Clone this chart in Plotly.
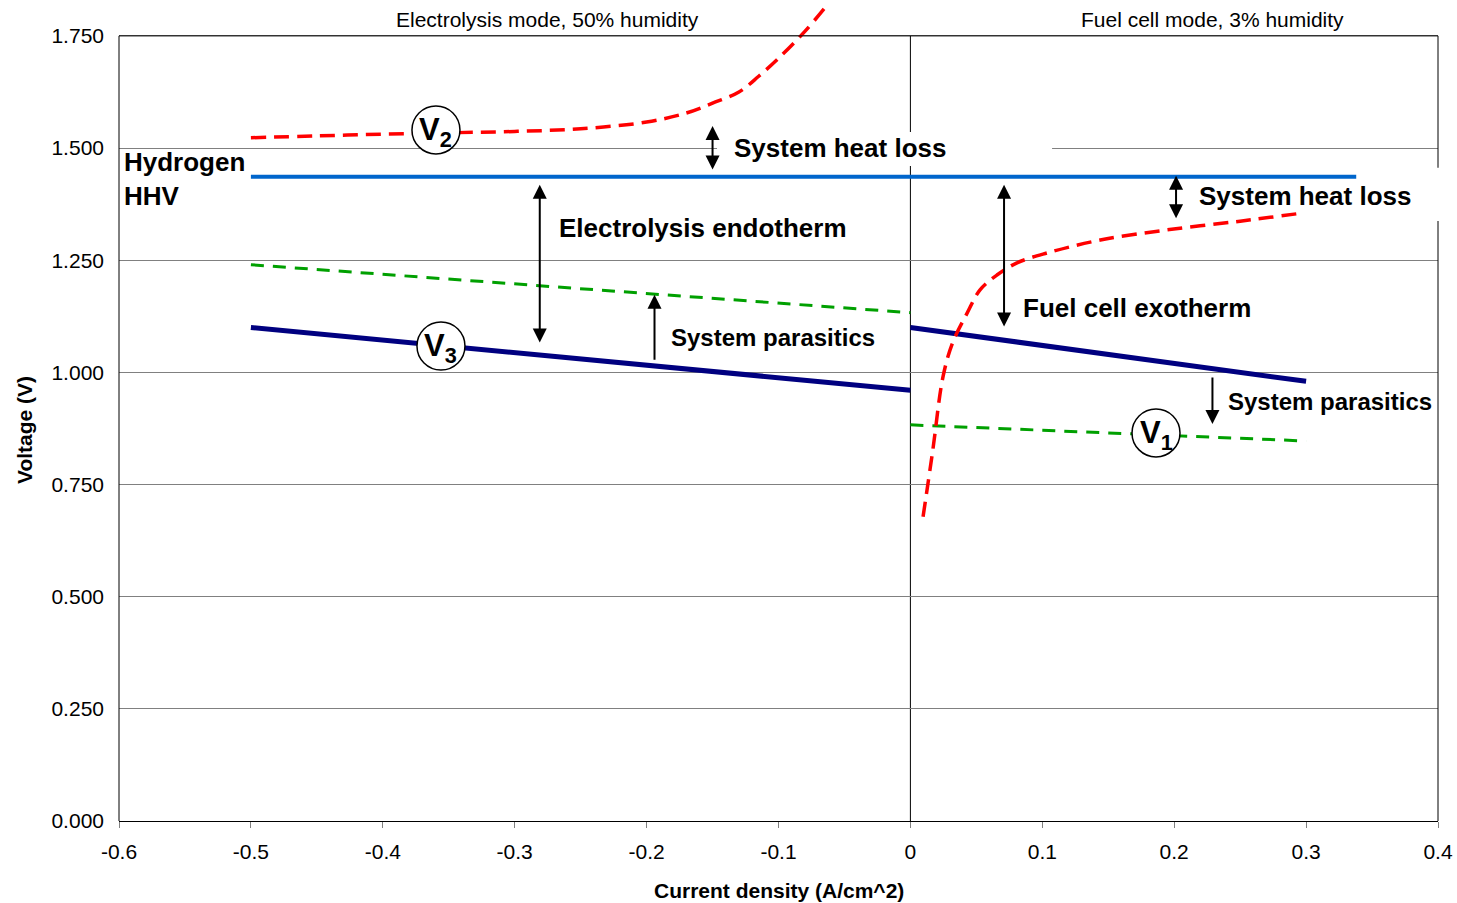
import plotly.graph_objects as go

# ---------------- data ----------------
x_el = [-0.5, 0.0]
v3_el = [1.100, 0.960]
x_fc = [0.0, 0.3]
v3_fc = [1.100, 0.980]
v1_el = [1.240, 1.133]
v1_fc = [0.883, 0.847]
hhv_x = [-0.5, 0.338]
hhv_y = [1.436, 1.436]

v2_el_x = [-0.5, -0.45, -0.4, -0.35, -0.3, -0.25, -0.2, -0.17, -0.15, -0.13, -0.115, -0.1, -0.08, -0.065]
v2_el_y = [1.523, 1.527, 1.531, 1.534, 1.537, 1.543, 1.558, 1.578, 1.600, 1.625, 1.660, 1.700, 1.760, 1.812]

v2_fc_x = [0.0096, 0.017, 0.0247, 0.032, 0.043, 0.0528, 0.0656, 0.0808, 0.1035, 0.144, 0.1945, 0.25, 0.297]
v2_fc_y = [0.678, 0.827, 0.990, 1.066, 1.132, 1.184, 1.217, 1.244, 1.266, 1.295, 1.3175, 1.337, 1.355]

x_ticks = [-0.6, -0.5, -0.4, -0.3, -0.2, -0.1, 0, 0.1, 0.2, 0.3, 0.4]
x_tick_text = ["-0.6", "-0.5", "-0.4", "-0.3", "-0.2", "-0.1", "0", "0.1", "0.2", "0.3", "0.4"]
y_ticks = [0, 0.25, 0.5, 0.75, 1.0, 1.25, 1.5, 1.75]
y_tick_text = ["0.000", "0.250", "0.500", "0.750", "1.000", "1.250", "1.500", "1.750"]

Y_TOP = 1.75
Y_MAX = 1.83

FONT = "Liberation Sans, Arial, sans-serif"
RED = "#FF0000"
GREEN = "#00A000"
NAVY = "#000080"
BLUE = "#0066CC"

fig = go.Figure()

fig.add_trace(go.Scatter(x=hhv_x, y=hhv_y, mode="lines",
                         line=dict(color=BLUE, width=4), hoverinfo="skip"))
fig.add_trace(go.Scatter(x=x_el, y=v1_el, mode="lines",
                         line=dict(color=GREEN, width=3, dash="13px,9px"), hoverinfo="skip"))
fig.add_trace(go.Scatter(x=x_fc, y=v1_fc, mode="lines",
                         line=dict(color=GREEN, width=3, dash="13px,9px"), hoverinfo="skip"))
fig.add_trace(go.Scatter(x=x_el, y=v3_el, mode="lines",
                         line=dict(color=NAVY, width=5), hoverinfo="skip"))
fig.add_trace(go.Scatter(x=x_fc, y=v3_fc, mode="lines",
                         line=dict(color=NAVY, width=5), hoverinfo="skip"))
fig.add_trace(go.Scatter(x=v2_el_x, y=v2_el_y, mode="lines",
                         line=dict(color=RED, width=3.5, dash="15px,8px", shape="spline"),
                         hoverinfo="skip"))
fig.add_trace(go.Scatter(x=v2_fc_x, y=v2_fc_y, mode="lines",
                         line=dict(color=RED, width=3.5, dash="15px,8px", shape="spline"),
                         hoverinfo="skip"))

shapes = []
fy = Y_TOP / Y_MAX
# white box behind upper "System heat loss" (hides grid line)
shapes.append(dict(type="rect", xref="x", yref="y", x0=-0.1466, x1=0.1074, y0=1.460, y1=1.536,
                   fillcolor="white", line=dict(width=0), layer="between"))
# frame
shapes.append(dict(type="line", xref="paper", yref="paper", x0=0, x1=1, y0=fy, y1=fy,
                   line=dict(color="black", width=1), layer="above"))
shapes.append(dict(type="line", xref="paper", yref="paper", x0=0, x1=0, y0=0, y1=fy,
                   line=dict(color="black", width=1), layer="above"))
shapes.append(dict(type="line", xref="paper", yref="paper", x0=1, x1=1, y0=0, y1=fy,
                   line=dict(color="black", width=1), layer="above"))
shapes.append(dict(type="line", xref="x", yref="y", x0=0, x1=0, y0=0, y1=Y_TOP,
                   line=dict(color="black", width=1), layer="below"))
# white box behind right "System heat loss" (hides the frame)
shapes.append(dict(type="rect", xref="paper", yref="paper", x0=0.975, x1=1.01,
                   y0=1.3376 / Y_MAX, y1=1.456 / Y_MAX,
                   fillcolor="white", line=dict(width=0), layer="above"))

# V circles
circles = [(-0.3597, 1.5405, "2"), (-0.3559, 1.0589, "3"), (0.1862, 0.865, "1")]
for cx, cy, _ in circles:
    shapes.append(dict(type="circle", xref="x", yref="y", xsizemode="pixel", ysizemode="pixel",
                       xanchor=cx, yanchor=cy, x0=-24, x1=24, y0=-24, y1=24,
                       fillcolor="white", line=dict(color="black", width=1.5), layer="above"))

annotations = []

def arrow(x, y_head, y_tail, both):
    annotations.append(dict(x=x, y=y_head, ax=x, ay=y_tail, xref="x", yref="y",
                            axref="x", ayref="y", text="", showarrow=True,
                            arrowhead=2, startarrowhead=2, arrowsize=1.4, startarrowsize=1.4,
                            arrowwidth=2, arrowcolor="black",
                            arrowside="end+start" if both else "end",
                            standoff=0, startstandoff=0))

arrow(-0.15, 1.549, 1.449, True)
arrow(-0.281, 1.418, 1.063, True)
arrow(-0.194, 1.173, 1.025, False)
arrow(0.071, 1.418, 1.099, True)
arrow(0.2014, 1.438, 1.340, True)
arrow(0.229, 0.885, 0.992, False)

def label(x, y, text, size, bold=True, xanchor="left", yanchor="middle"):
    annotations.append(dict(x=x, y=y, xref="x", yref="y", text=text, showarrow=False,
                            xanchor=xanchor, yanchor=yanchor, align="left",
                            font=dict(family=FONT, size=size, color="black",
                                      weight="bold" if bold else "normal")))

label(-0.135, 1.500, "System heat loss", 26)
label(-0.268, 1.322, "Electrolysis endotherm", 26)
label(-0.183, 1.0767, "System parasitics", 24)
label(0.084, 1.1436, "Fuel cell exotherm", 26)
label(0.217, 1.3933, "System heat loss", 26)
label(0.239, 0.934, "System parasitics", 24)
label(-0.5975, 1.431, "Hydrogen<br>HHV", 26)
label(-0.2755, 1.786, "Electrolysis mode, 50% humidity", 21, bold=False, xanchor="center")
label(0.2294, 1.786, "Fuel cell mode, 3% humidity", 21, bold=False, xanchor="center")

for cx, cy, sub in circles:
    label(cx, cy - 0.004, "V<sub>%s</sub>" % sub, 31, xanchor="center")

# axis titles
annotations.append(dict(x=0.5, y=-69 / 821, xref="paper", yref="paper",
                        text="Current density (A/cm^2)", showarrow=False,
                        xanchor="center", yanchor="middle",
                        font=dict(family=FONT, size=21, color="black", weight="bold")))
annotations.append(dict(x=-94 / 1319, y=(821 - 430) / 821, xref="paper", yref="paper",
                        text="Voltage (V)", showarrow=False, textangle=-90,
                        xanchor="center", yanchor="middle",
                        font=dict(family=FONT, size=21, color="black", weight="bold")))

fig.update_layout(
    width=1457, height=903, autosize=False,
    margin=dict(l=119, r=19, t=0, b=82),
    paper_bgcolor="white", plot_bgcolor="white",
    showlegend=False,
    shapes=shapes, annotations=annotations,
    xaxis=dict(range=[-0.6, 0.4], tickvals=x_ticks, ticktext=x_tick_text,
               showgrid=False, zeroline=False, showline=True, linecolor="black", linewidth=1,
               ticks="outside", ticklen=6, tickcolor="#808080", tickwidth=1,
               ticklabelstandoff=6,
               tickfont=dict(family=FONT, size=21, color="black")),
    yaxis=dict(range=[0, Y_MAX], tickvals=y_ticks, ticktext=y_tick_text,
               showgrid=True, gridcolor="#808080", gridwidth=1,
               zeroline=False, showline=False, ticks="",
               ticklabelstandoff=14,
               tickfont=dict(family=FONT, size=21, color="black")),
)

fig.write_html("out.html")
